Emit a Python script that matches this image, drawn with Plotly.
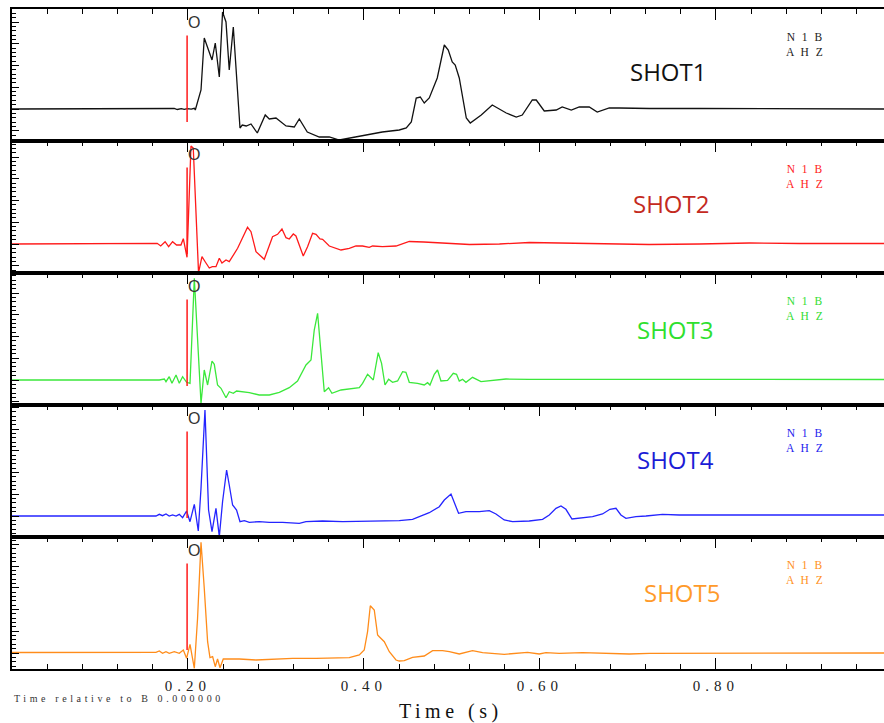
import plotly.graph_objects as go

# ---- data: seismic records for five shots (time in s, amplitude in counts) ----
shot_names = ["SHOT1", "SHOT2", "SHOT3", "SHOT4", "SHOT5"]
station_lines = ["N 1 B", "A H Z"]
pick_time = 0.199          # "O" origin pick
pick_label = "O"

shot1_time = [0.0, 0.173, 0.1788, 0.1844, 0.1878, 0.1924, 0.1958, 0.1992, 0.2037, 0.2072,
              0.2083, 0.2148, 0.2185, 0.2273, 0.2310, 0.2356, 0.2393, 0.2432, 0.2469, 0.2515,
              0.2591, 0.2617, 0.2662, 0.2716, 0.2788, 0.2878, 0.2924, 0.3000, 0.3114, 0.3208,
              0.3265, 0.3356, 0.3492, 0.3606, 0.3720, 0.3833, 0.4026, 0.4208, 0.4401, 0.4481,
              0.4538, 0.4594, 0.4640, 0.4685, 0.4742, 0.4833, 0.4913, 0.4958, 0.5003, 0.5037,
              0.5083, 0.5163, 0.5208, 0.5333, 0.5458, 0.5617, 0.5731, 0.5799, 0.5913, 0.5958,
              0.6049, 0.6185, 0.6253, 0.6356, 0.6447, 0.6560, 0.6651, 0.6788, 0.6901, 0.7242,
              0.7810, 1.0]
shot1_amp = [0, 0, 0, 0.5, -0.5, 0.3, -0.3, 0.4, -0.2, 0.7,
             -1, 19, 71, 49, 66, 32, 97, 87, 39, 82,
             -19, -16, -17, -15, -24, -6, -10, -9, -17, -18,
             -10, -23, -28, -28, -31, -29, -26, -23, -21, -19,
             -13, 11, 12, 6, 11, 31, 64, 59, 47, 44,
             31, -9, -14, -6, 4, -4, -8, -6, 9, 9,
             -2, -1, 2, -1, 2, 2, -3, 1, 1, 0.5,
             0.5, 0]

shot2_time = [0.0, 0.156, 0.165, 0.169, 0.174, 0.178, 0.1825, 0.187, 0.192, 0.1947, 0.1989,
              0.2034, 0.206, 0.212, 0.2159, 0.2197, 0.2242, 0.2276, 0.2318, 0.2356, 0.2386,
              0.2432, 0.2469, 0.2564, 0.262, 0.2677, 0.2716, 0.2773, 0.2867, 0.2961, 0.3018,
              0.3068, 0.3114, 0.3151, 0.3197, 0.3227, 0.331, 0.3359, 0.3416, 0.3455, 0.35,
              0.353, 0.3606, 0.3739, 0.3833, 0.3909, 0.3984, 0.406, 0.4098, 0.4211, 0.4364,
              0.4515, 0.468, 0.485, 0.52, 0.554, 0.588, 0.622, 0.667, 0.724, 0.781, 0.838,
              0.895, 1.0]
shot2_amp = [0, 0, 0.7, -2, 2.3, -2.7, 2.3, -1, -1, 5.3, -13.3,
             98, 96, -28.7, -12.7, -18, -24, -22.7, -22.7, -14.3, -19,
             -16, -17.7, -4.3, 5.7, 16.7, 12.3, -7.7, -15.3, 7.3, 9.7,
             15, 6.3, 5, 10, 8, -12, -2.7, 10.7, 9.7, 5,
             4.7, -2, -6, -4.3, -2, -2, -3.3, -2, -2.7, -2,
             2.5, 2, 1, -0.5, 0, 1.5, 1, 0.5, -0.5, 0, 1,
             0.5, 0.5]

shot3_time = [0.0, 0.156, 0.1674, 0.1731, 0.175, 0.1787, 0.1818, 0.1864, 0.1901, 0.1939,
              0.1984, 0.2023, 0.2072, 0.2148, 0.2185, 0.2223, 0.2273, 0.2299, 0.2336, 0.2375,
              0.2432, 0.2469, 0.2515, 0.2552, 0.262, 0.2697, 0.281, 0.2924, 0.3038, 0.3151,
              0.3245, 0.3341, 0.3398, 0.3435, 0.3473, 0.3549, 0.3598, 0.3636, 0.3739, 0.3833,
              0.389, 0.3947, 0.3984, 0.4041, 0.4106, 0.4162, 0.42, 0.4239, 0.428, 0.4325,
              0.4382, 0.4439, 0.4477, 0.4515, 0.4609, 0.4685, 0.4723, 0.475, 0.4799, 0.4836,
              0.4875, 0.495, 0.5015, 0.5052, 0.5083, 0.512, 0.5159, 0.5234, 0.533, 0.5461,
              0.5614, 0.5878, 0.6447, 1.0]
shot3_amp = [0, 0, 0, 1, -1.7, 3.3, -3.3, 5, -3.3, 3.3,
             -2.3, -3.3, 101.7, -23.3, 10, -5, 19, 15.7, -5, -8.3,
             -17.7, -11.7, -13.3, -11, -11.7, -12.7, -15, -15, -12.3, -7.7,
             -1, 15, 20, 50, 66.7, -11.7, -7.7, -13.3, -10, -9,
             -7.7, -7.7, -3.3, 5.7, 0, 27.3, 16.7, -5, 0.7, -2.3,
             -1, 8.3, 7.7, -2.3, -3.3, -5, -2.7, -5, 5.7, 10,
             -1, -0.3, 6.7, 5.7, -1, 0.7, -2.3, 2.7, -1.7, -0.3,
             1, 0.7, 0.7, 0.5]

shot4_time = [0.0, 0.156, 0.1636, 0.1674, 0.1711, 0.175, 0.1787, 0.1825, 0.1864, 0.1901,
              0.1939, 0.1984, 0.2023, 0.2072, 0.2117, 0.2148, 0.2193, 0.2234, 0.2273, 0.2318,
              0.2356, 0.2393, 0.2439, 0.2469, 0.2507, 0.2552, 0.2591, 0.264, 0.2697, 0.281,
              0.2924, 0.3075, 0.3265, 0.3341, 0.353, 0.3757, 0.4023, 0.4401, 0.4552, 0.4666,
              0.4742, 0.4856, 0.4913, 0.4989, 0.5075, 0.5159, 0.531, 0.5424, 0.55, 0.5594,
              0.5689, 0.5878, 0.603, 0.6106, 0.6182, 0.6239, 0.6295, 0.6364, 0.6447, 0.6598,
              0.6711, 0.6795, 0.6864, 0.692, 0.6977, 0.7091, 0.7205, 0.7393, 0.7583, 1.0]
shot4_amp = [0, 0, 0, 1.7, 0.3, 2, 0, 1, 0, 1.7,
             -1.7, 5, -5.7, 11.7, -15, 27.7, 106, 6, -15.7, 7.7,
             -20.7, 14.3, 46, 31, 11, 6, -5.7, -4.7, -6.3, -5.7,
             -6.3, -6.3, -7.3, -5.7, -5, -5.7, -5, -4.7, -3.3, 1,
             3.3, 9.3, 16, 22, 2.7, 4.3, 4.3, 5.3, 2, -4,
             -5.7, -5, -3.3, 1, 7.7, 10, 6.7, -3, -2.3, -0.7,
             2, 6.7, 7.7, 1, -2.3, -0.7, 0, 1.7, 1, 1]

shot5_time = [0.0, 0.156, 0.1636, 0.1674, 0.1711, 0.175, 0.1787, 0.1844, 0.1901, 0.1947,
              0.1984, 0.2023, 0.2072, 0.2109, 0.2148, 0.2185, 0.2223, 0.225, 0.228, 0.231,
              0.2336, 0.2364, 0.2401, 0.2469, 0.2583, 0.2773, 0.3, 0.3189, 0.3455, 0.3682,
              0.3833, 0.3947, 0.4003, 0.4041, 0.4072, 0.4117, 0.4155, 0.4174, 0.4231, 0.4288,
              0.4364, 0.4401, 0.4458, 0.4552, 0.4685, 0.478, 0.4893, 0.497, 0.5083, 0.5234,
              0.5348, 0.5594, 0.5727, 0.5859, 0.5992, 0.6068, 0.6219, 0.6484, 0.7014, 0.7242,
              1.0]
shot5_amp = [0.5, 0.7, 0.7, 2, -0.3, 1.3, -0.3, 1.3, -0.3, 3,
             -5.3, 8.7, -15.3, 34.7, 110.7, 64.7, 11.3, -4.7, -3.7, -13.7,
             -6, -14.7, -6, -6, -6, -7, -6.3, -5.3, -5.3, -5.3,
             -4.7, -2, 3, 21.3, 47.3, 43, 18, 16.3, 11.3, 1.3,
             -7, -8, -7.7, -4.3, -3, 2.3, 2.3, 1.3, -1, 2.3,
             0.3, -1.3, -0.3, 0.7, -1, 0.3, -0.3, 0.3, -1, -0.3,
             0]

times = [shot1_time, shot2_time, shot3_time, shot4_time, shot5_time]
amps = [shot1_amp, shot2_amp, shot3_amp, shot4_amp, shot5_amp]

# ---- styling ----
line_colors = ["#111111", "#ff1a1a", "#3be83b", "#2424ff", "#ff8c1a"]
name_colors = ["#111111", "#c42a1e", "#2ee02e", "#1c1cd6", "#ff9a2a"]
code_colors = ["#222222", "#ff2222", "#33dd33", "#2222ee", "#ff9022"]
y_ranges = [[-32, 100], [-29, 103], [-25, 107], [-21, 111], [-16, 116]]
name_x = [0.745, 0.749, 0.753, 0.754, 0.761]
name_y = [0.53, 0.53, 0.57, 0.59, 0.58]
x_range = [0, 0.991]

serif = "Liberation Serif, Times New Roman, serif"
sans = "Open Sans, Noto Sans, sans-serif"


def spaced(txt, px):
    return f'<span style="letter-spacing:{px}px">{txt}</span>'


n = len(shot_names)
fig = go.Figure()
layout = dict(
    width=884, height=723,
    margin=dict(l=12, r=0, t=9, b=54),
    paper_bgcolor="white", plot_bgcolor="white",
    showlegend=False,
    shapes=[], annotations=[],
)

for k in range(n):
    i = k + 1
    xa = "x" if i == 1 else f"x{i}"
    ya = "y" if i == 1 else f"y{i}"
    top = 1 - k / n
    bot = 1 - (k + 1) / n

    fig.add_trace(go.Scatter(
        x=times[k], y=amps[k], mode="lines", xaxis=xa, yaxis=ya,
        line=dict(color=line_colors[k], width=1.3), hoverinfo="skip",
    ))

    last = (i == n)
    xaxis = dict(
        domain=[0, 1], range=x_range, anchor=ya,
        side="bottom" if last else "top",
        showline=True, linecolor="black", linewidth=1.6,
        mirror="ticks" if last else True,
        ticks="inside", ticklen=11, tickwidth=1, tickcolor="black",
        tickmode="linear", tick0=0, dtick=0.2, tickformat=".2f",
        minor=dict(tickmode="linear", tick0=0, dtick=0.04, ticks="inside",
                   ticklen=5, tickwidth=1, tickcolor="black", showgrid=False),
        showticklabels=last,
        labelalias={"0.00": ""},
        tickfont=dict(family=serif, size=15, color="#222"),
        ticklabelstandoff=2,
        showgrid=False, zeroline=False, fixedrange=True,
    )
    if last:
        xaxis["labelalias"] = {
            "0.00": "",
            "0.20": spaced("0.20", 5), "0.40": spaced("0.40", 5),
            "0.60": spaced("0.60", 5), "0.80": spaced("0.80", 5),
        }
    layout[f"xaxis{i}"] = xaxis
    layout[f"yaxis{i}"] = dict(
        domain=[bot, top], range=y_ranges[k], anchor=xa,
        showline=True, linecolor="black", linewidth=2, mirror=False,
        ticks="inside", ticklen=7, tickwidth=1, tickcolor="black",
        tickmode="linear", tick0=0, dtick=21.7,
        minor=dict(tickmode="linear", tick0=0, dtick=4.34, ticks="inside",
                   ticklen=4, tickwidth=1, tickcolor="black", showgrid=False),
        showticklabels=False, showgrid=False, zeroline=False, fixedrange=True,
    )
    # right-hand tick marks
    layout[f"yaxis{i + n}"] = dict(
        overlaying=ya, side="right", anchor=xa, range=y_ranges[k],
        showline=False, ticks="inside", ticklen=5, tickwidth=1, tickcolor="black",
        tickmode="linear", tick0=0, dtick=21.7,
        showticklabels=False, showgrid=False, zeroline=False, fixedrange=True,
    )

    # origin pick marker
    layout["shapes"].append(dict(
        type="line", xref=xa, yref=f"{ya} domain",
        x0=pick_time, x1=pick_time, y0=0.144, y1=0.80,
        line=dict(color="#ff1a1a", width=1.5),
    ))
    layout["annotations"].append(dict(
        xref=xa, yref=f"{ya} domain", x=pick_time + 0.008, y=0.894,
        text=pick_label, showarrow=False, xanchor="center", yanchor="middle",
        font=dict(family="Liberation Sans, Arial, sans-serif", size=16, color="#333"),
    ))
    # shot name
    layout["annotations"].append(dict(
        xref=xa, yref=f"{ya} domain", x=name_x[k], y=name_y[k],
        text=shot_names[k], showarrow=False, xanchor="center", yanchor="middle",
        font=dict(family=sans, size=24, color=name_colors[k]),
    ))
    # station / component code (two stacked lines)
    layout["annotations"].append(dict(
        xref=xa, yref=f"{ya} domain", x=0.902, y=0.73,
        text="<br>".join(spaced(s, 2) for s in station_lines),
        showarrow=False, xanchor="center", yanchor="middle",
        font=dict(family=serif, size=11.5, color=code_colors[k]),
    ))

layout["annotations"].append(dict(
    xref="paper", yref="paper", x=0.503, y=-0.065,
    text=spaced("Time (s)", 4.5), showarrow=False,
    xanchor="center", yanchor="middle",
    font=dict(family=serif, size=20, color="#111"),
))
layout["annotations"].append(dict(
    xref="paper", yref="paper", x=0.0, y=-0.044,
    text=spaced("Time relative to B 0.000000", 3.6), showarrow=False,
    xanchor="left", yanchor="middle",
    font=dict(family=serif, size=10, color="#333"),
))

fig.update_layout(**layout)
fig.write_html("out.html")
